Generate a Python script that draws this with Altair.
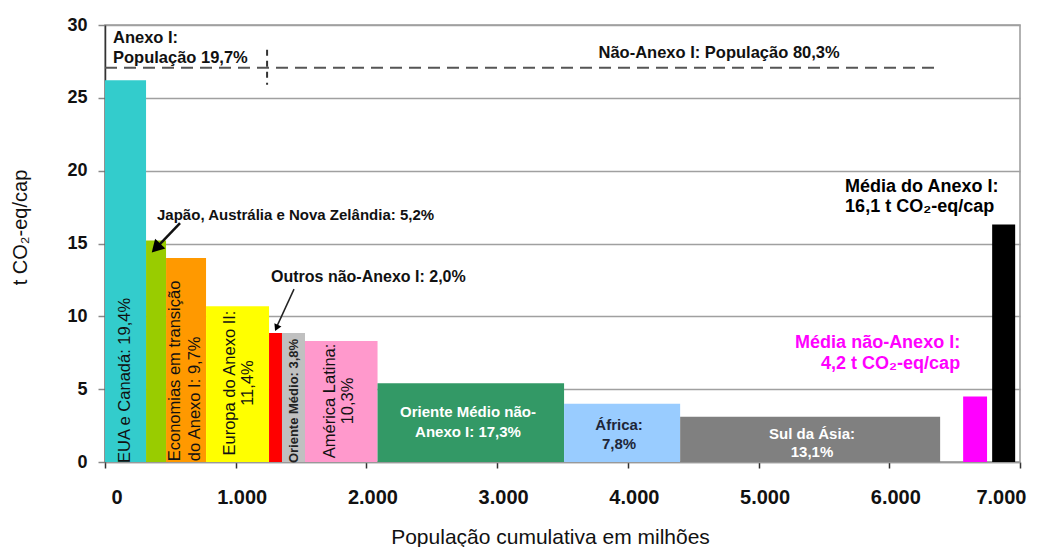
import altair as alt
import pandas as pd

# ---------------- data ----------------
regions = [
    "EUA e Canadá", "Japão, Austrália e Nova Zelândia", "Economias em transição do Anexo I",
    "Europa do Anexo II", "Outros não-Anexo I", "Oriente Médio", "América Latina",
    "Oriente Médio não-Anexo I", "África", "Sul da Ásia", "Média não-Anexo I", "Média do Anexo I",
]
pop_start = [0, 314, 467, 773, 1255, 1354, 1530, 2085, 3512, 4400, 6565, 6787]
pop_end = [314, 467, 773, 1255, 1354, 1530, 2085, 3512, 4400, 6389, 6748, 6963]
emissions = [26.2, 15.2, 14.0, 10.7, 8.85, 8.85, 8.3, 5.4, 4.0, 3.1, 4.5, 16.3]
bar_colors = ["#33CCCC", "#99CC00", "#FF9900", "#FFFF00", "#FF0000", "#C0C0C0", "#FF99CC",
              "#339966", "#99CCFF", "#808080", "#FF00FF", "#000000"]

x_ticks = [0, 1000, 2000, 3000, 4000, 5000, 6000, 7000]
y_ticks = [0, 5, 10, 15, 20, 25, 30]

annex_pop_split = 1240          # Annex I / non-Annex I population boundary
group_line_level = 27.06        # dashed group line level

bars = pd.DataFrame({"region": regions, "x0": pop_start, "x1": pop_end,
                     "y": emissions, "color": bar_colors})

FONT = "Liberation Sans"
W, H = 915, 437

xscale = alt.Scale(domain=[0, 7000], nice=False, zero=False)
yscale = alt.Scale(domain=[0, 30], nice=False)

base_bars = alt.Chart(bars).mark_rect().encode(
    x=alt.X("x0:Q", scale=xscale,
            axis=alt.Axis(values=x_ticks, grid=False, tickSize=6, tickColor="#333333",
                          tickWidth=1.5, domainColor="#999999", domainWidth=1.5,
                          labelFont=FONT, labelFontSize=20, labelFontWeight="bold",
                          labelColor="#111111", labelPadding=19, labelOffset=6,
                          labelExpr="replace(format(datum.value, ','), ',', '.')",
                          title="População cumulativa em milhões", titleFont=FONT,
                          titleFontSize=21, titleFontWeight="normal", titleColor="#111111",
                          titleX=445, titleY=81, titleAlign="center",
                          titleBaseline="alphabetic")),
    x2="x1:Q",
    y=alt.Y("y:Q", scale=yscale,
            axis=alt.Axis(values=y_ticks, grid=True, gridColor="#A0A0A0", gridWidth=1.5,
                          tickSize=7, tickColor="#888888", tickWidth=1.5,
                          domainColor="#333333", domainWidth=1.5,
                          labelFont=FONT, labelFontSize=18, labelFontWeight="bold",
                          labelColor="#111111", labelPadding=11,
                          title="t CO₂-eq/cap", titleFont=FONT, titleFontSize=20,
                          titleFontWeight="normal", titleColor="#111111",
                          titleX=-85, titleY=202, titleAngle=270, titleAlign="center",
                          titleBaseline="middle")),
    y2=alt.datum(0),
    color=alt.Color("color:N", scale=None, legend=None),
)

layers = [base_bars]

def rule(x0, x1, y0, y1, color, width, dash=None):
    df = pd.DataFrame({"a": [x0], "b": [x1], "c": [y0], "d": [y1]})
    kw = dict(color=color, strokeWidth=width)
    if dash:
        kw["strokeDash"] = dash
    return alt.Chart(df).mark_rule(**kw).encode(
        x=alt.X("a:Q", scale=xscale), x2="b:Q",
        y=alt.Y("c:Q", scale=yscale), y2="d:Q")

layers.append(rule(0, 6373, group_line_level, group_line_level, "#555555", 2, [12, 7]))
layers.append(rule(annex_pop_split, annex_pop_split, 28.3, 25.9, "#333333", 2, [6, 5]))

# arrows
layers.append(rule(574, 398, 16.4, 14.75, "#111111", 2.5))
layers.append(rule(1446, 1316, 11.87, 9.33, "#222222", 1.5))

def head(x, y, angle, size):
    df = pd.DataFrame({"a": [x], "b": [y]})
    return alt.Chart(df).mark_point(shape="triangle-up", filled=True, color="#000000",
                                    opacity=1, size=size, angle=angle).encode(
        x=alt.X("a:Q", scale=xscale), y=alt.Y("b:Q", scale=yscale))

layers.append(head(390, 14.69, 224, 200))
layers.append(head(1312, 9.21, 205, 60))

def txt(text, x, y, size, color="#111111", weight="normal", angle=0, align="center",
        baseline="middle"):
    df = pd.DataFrame({"t": [text], "a": [x], "b": [y]})
    return alt.Chart(df).mark_text(font=FONT, fontSize=size, fontWeight=weight, color=color,
                                   angle=angle, align=align, baseline=baseline).encode(
        x=alt.X("a:Q", scale=xscale), y=alt.Y("b:Q", scale=yscale), text="t:N")

labels = [
    ("Anexo I:", 61, 29.1, 16.5, "#111111", "bold", 0, "left"),
    ("População 19,7%", 61, 27.73, 16.5, "#111111", "bold", 0, "left"),
    ("Não-Anexo I: População 80,3%", 4698, 28.07, 16.5, "#111111", "bold", 0, "center"),
    ("Japão, Austrália e Nova Zelândia: 5,2%", 398, 16.95, 15, "#111111", "bold", 0, "left"),
    ("Outros não-Anexo I: 2,0%", 1270, 12.7, 16, "#111111", "bold", 0, "left"),
    ("Média do Anexo I:", 5662, 18.87, 18, "#000000", "bold", 0, "left"),
    ("16,1 t CO₂-eq/cap", 5662, 17.5, 18, "#000000", "bold", 0, "left"),
    ("Média não-Anexo I:", 6542, 8.17, 18, "#FF00FF", "bold", 0, "right"),
    ("4,2 t CO₂-eq/cap", 6542, 6.73, 18, "#FF00FF", "bold", 0, "right"),
    ("EUA e Canadá: 19,4%", 153, 5.6, 16.5, "#111111", "normal", 270, "center"),
    ("Economias em transição", 536, 0.05, 16.5, "#111111", "normal", 270, "left"),
    ("do Anexo I: 9,7%", 689, 0.05, 16.5, "#111111", "normal", 270, "left"),
    ("Europa do Anexo II:", 956, 5.42, 16.5, "#111111", "normal", 270, "center"),
    ("11,4%", 1094, 5.42, 16.5, "#111111", "normal", 270, "center"),
    ("Oriente Médio: 3,8%", 1446, 4.19, 13, "#222222", "bold", 270, "center"),
    ("América Latina:", 1721, 4.19, 16.5, "#111111", "normal", 270, "center"),
    ("10,3%", 1859, 4.19, 16.5, "#111111", "normal", 270, "center"),
    ("Oriente Médio não-", 2777, 3.43, 15, "#FFFFFF", "bold", 0, "center"),
    ("Anexo I: 17,3%", 2777, 2.06, 15, "#FFFFFF", "bold", 0, "center"),
    ("África:", 3933, 2.54, 15, "#1E2638", "bold", 0, "center"),
    ("7,8%", 3933, 1.24, 15, "#1E2638", "bold", 0, "center"),
    ("Sul da Ásia:", 5409, 1.92, 15, "#FFFFFF", "bold", 0, "center"),
    ("13,1%", 5409, 0.69, 15, "#FFFFFF", "bold", 0, "center"),
]
for (t, x, y, s, c, w, a, al) in labels:
    layers.append(txt(t, x, y, s, c, w, a, al))

chart = alt.layer(*layers).properties(
    width=W, height=H,
    padding={"left": 97, "top": 17, "right": 28, "bottom": 85},
    autosize=alt.AutoSizeParams(type="none"),
    background="#FFFFFF",
).configure_view(stroke="#999999", strokeWidth=1.5)

chart.save("out.html", embed_options={"renderer": "svg", "actions": False})
